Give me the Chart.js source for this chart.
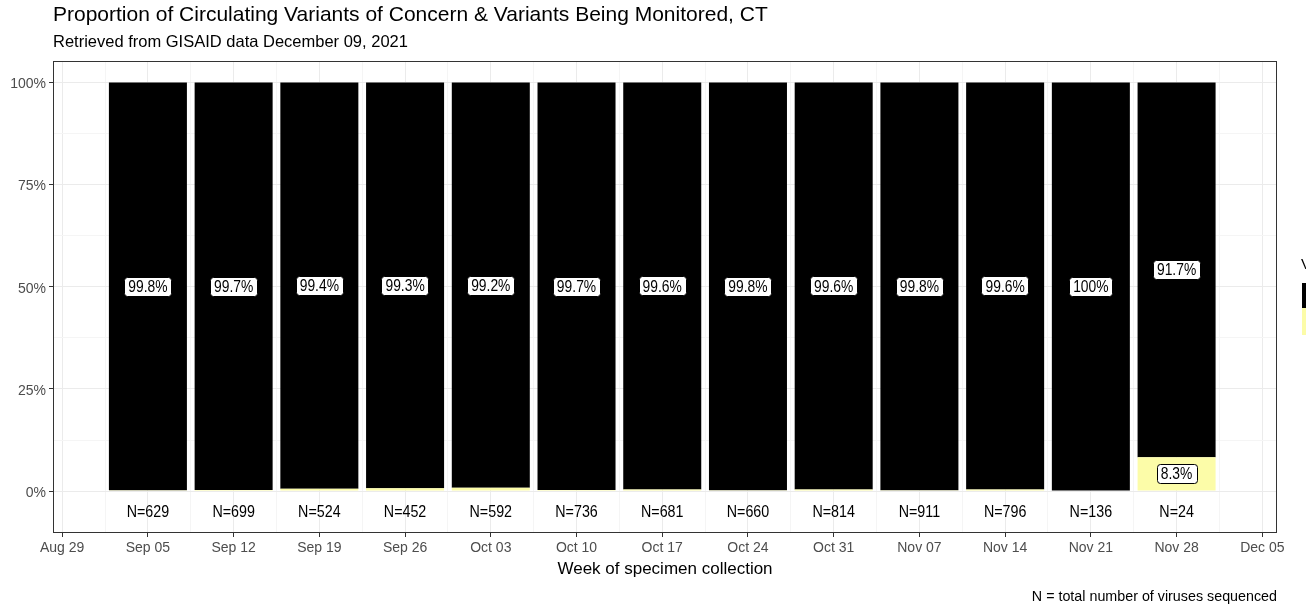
<!DOCTYPE html>
<html>
<head>
<meta charset="utf-8">
<title>Proportion of Circulating Variants, CT</title>
<script src="https://cdn.jsdelivr.net/npm/chart.js@4.4.0/dist/chart.umd.min.js"></script>
<style>
  html, body { margin: 0; padding: 0; background: #fff; }
</style>
</head>
<body>
<canvas id="myChart" width="1306" height="609"></canvas>
<script>
// Weeks of specimen collection
const weeks = ['Sep 05', 'Sep 12', 'Sep 19', 'Sep 26', 'Oct 03', 'Oct 10', 'Oct 17',
               'Oct 24', 'Oct 31', 'Nov 07', 'Nov 14', 'Nov 21', 'Nov 28'];
// days after Aug 29 for each week
const weekDays = [7, 14, 21, 28, 35, 42, 49, 56, 63, 70, 77, 84, 91];

// share of sequenced viruses (%)
const deltaPct = [99.8, 99.7, 99.4, 99.3, 99.2, 99.7, 99.6, 99.8, 99.6, 99.8, 99.6, 100, 91.7];
const otherPct = [0.2, 0.3, 0.6, 0.7, 0.8, 0.3, 0.4, 0.2, 0.4, 0.2, 0.4, 0, 8.3];
// total number of viruses sequenced
const totalN = [629, 699, 524, 452, 592, 736, 681, 660, 814, 911, 796, 136, 24];

// axis ticks
const xTickDays = [0, 7, 14, 21, 28, 35, 42, 49, 56, 63, 70, 77, 84, 91, 98];
const xTickLabels = ['Aug 29', 'Sep 05', 'Sep 12', 'Sep 19', 'Sep 26', 'Oct 03', 'Oct 10', 'Oct 17',
                     'Oct 24', 'Oct 31', 'Nov 07', 'Nov 14', 'Nov 21', 'Nov 28', 'Dec 05'];
const yTickValues = [0, 25, 50, 75, 100];

const BLACK = '#000000';
const YELLOW = '#FCFCA8';
const mainFont = '"Liberation Sans", Arial, sans-serif';

function points(vals) {
  return vals.map((v, i) => ({ x: weekDays[i], y: v }));
}

// minor ticks sit halfway between the major ones
function withMinor(major) {
  const out = [];
  for (let i = 0; i < major.length; i++) {
    out.push({ value: major[i], major: true });
    if (i < major.length - 1) out.push({ value: (major[i] + major[i + 1]) / 2, major: false });
  }
  return out;
}

// narrow text (no Arial Narrow here, so squeeze Liberation Sans)
const SQUEEZE = 0.84;
function narrowText(ctx, text, x, y) {
  ctx.save();
  ctx.translate(x, y);
  ctx.scale(SQUEEZE, 1);
  ctx.fillText(text, 0, 0);
  ctx.restore();
}

function drawBoxLabel(ctx, text, x, y) {
  ctx.font = '16.5px ' + mainFont;
  const w = ctx.measureText(text).width * SQUEEZE + 8;
  const h = 19;
  ctx.beginPath();
  ctx.roundRect(Math.round(x - w / 2) + 0.5, Math.round(y - h / 2) + 0.5, Math.round(w), h, 3);
  ctx.fillStyle = '#fff';
  ctx.fill();
  ctx.lineWidth = 1;
  ctx.strokeStyle = '#000';
  ctx.stroke();
  ctx.fillStyle = '#000';
  ctx.textAlign = 'center';
  ctx.textBaseline = 'middle';
  narrowText(ctx, text, x, y + 1);
}

const barLabels = {
  id: 'barLabels',
  afterDatasetsDraw(chart) {
    const ctx = chart.ctx;
    const yScale = chart.scales.y;
    ctx.save();
    chart.data.datasets.forEach((ds, di) => {
      const meta = chart.getDatasetMeta(di);
      meta.data.forEach((bar, i) => {
        const v = ds.data[i].y;
        if (v < 5) return;
        drawBoxLabel(ctx, v + '%', bar.x, (bar.y + bar.base) / 2);
      });
    });
    // N labels under the bars
    const meta0 = chart.getDatasetMeta(0);
    ctx.font = '17px ' + mainFont;
    ctx.fillStyle = '#000';
    ctx.textAlign = 'center';
    ctx.textBaseline = 'middle';
    meta0.data.forEach((bar, i) => {
      narrowText(ctx, 'N=' + totalN[i], bar.x, yScale.getPixelForValue(-5) + 1);
    });
    ctx.restore();
  }
};

const frameAndText = {
  id: 'frameAndText',
  afterDraw(chart) {
    const ctx = chart.ctx;
    const a = chart.chartArea;
    ctx.save();
    // panel border
    ctx.strokeStyle = '#333333';
    ctx.lineWidth = 1;
    ctx.strokeRect(a.left + 0.5, a.top + 0.5, a.right - a.left - 1, a.bottom - a.top - 1);

    ctx.fillStyle = '#000';
    ctx.textBaseline = 'alphabetic';
    ctx.textAlign = 'left';
    ctx.font = '21px ' + mainFont;
    ctx.fillText('Proportion of Circulating Variants of Concern & Variants Being Monitored, CT', 53, 21);
    ctx.font = '16.5px ' + mainFont;
    ctx.fillText('Retrieved from GISAID data December 09, 2021', 53, 47);

    ctx.textAlign = 'right';
    ctx.font = '14.3px ' + mainFont;
    ctx.fillText('N = total number of viruses sequenced', 1277, 601);

    // legend, mostly off the right edge
    ctx.textAlign = 'left';
    ctx.textBaseline = 'middle';
    ctx.font = '15px ' + mainFont;
    ctx.fillText('Variant', 1301, 265);
    ctx.fillStyle = BLACK;
    ctx.fillRect(1302, 283, 28, 25);
    ctx.fillStyle = YELLOW;
    ctx.fillRect(1302, 308, 28, 27);
    ctx.restore();
  }
};

const config = {
  type: 'bar',
  data: {
    datasets: [{
      label: 'Other',
      data: points(otherPct),
      backgroundColor: YELLOW,
      borderWidth: 0
    }, {
      label: 'Delta',
      data: points(deltaPct),
      backgroundColor: BLACK,
      borderWidth: 0
    }]
  },
  options: {
    responsive: false,
    animation: false,
    // Chart.js measures bar room against the minor ticks (half a week apart),
    // so 1.82 here is 0.91 of a full week
    barPercentage: 1.82,
    categoryPercentage: 1.0,
    layout: { padding: { top: 61, right: 29, left: 0, bottom: 0 } },
    plugins: {
      legend: { display: false },
      tooltip: { enabled: false }
    },
    scales: {
      x: {
        type: 'linear',
        stacked: true,
        offset: false,
        min: -0.75,
        max: 99.2,
        afterBuildTicks: s => { s.ticks = withMinor(xTickDays); },
        afterFit: s => { s.height = 76; },
        border: { display: false },
        grid: {
          offset: false,
          color: c => (c.tick && c.tick.major) ? '#EBEBEB' : '#F5F5F5',
          tickColor: c => (c.tick && c.tick.major) ? '#333333' : 'rgba(0,0,0,0)',
          tickLength: 4
        },
        ticks: {
          autoSkip: false,
          maxRotation: 0,
          padding: 3,
          color: '#4D4D4D',
          font: { family: mainFont, size: 14 },
          callback: v => {
            const k = xTickDays.indexOf(v);
            return k >= 0 ? xTickLabels[k] : '';
          }
        },
        title: {
          display: true,
          text: 'Week of specimen collection',
          color: '#000',
          font: { family: mainFont, size: 17 },
          padding: { top: 0, bottom: 29 }
        }
      },
      y: {
        stacked: true,
        min: -10.25,
        max: 105.25,
        afterBuildTicks: s => { s.ticks = withMinor(yTickValues); },
        afterFit: s => { s.width = 53; },
        border: { display: false },
        grid: {
          color: c => (c.tick && c.tick.major) ? '#EBEBEB' : '#F5F5F5',
          tickColor: c => (c.tick && c.tick.major) ? '#333333' : 'rgba(0,0,0,0)',
          tickLength: 4
        },
        ticks: {
          autoSkip: false,
          padding: 3,
          labelOffset: 2,
          color: '#4D4D4D',
          font: { family: mainFont, size: 14 },
          callback: v => yTickValues.indexOf(v) >= 0 ? v + '%' : ''
        }
      }
    }
  },
  plugins: [barLabels, frameAndText]
};

var ctx = document.getElementById('myChart').getContext('2d');
var myChart = new Chart(ctx, config);
</script>
</body>
</html>
